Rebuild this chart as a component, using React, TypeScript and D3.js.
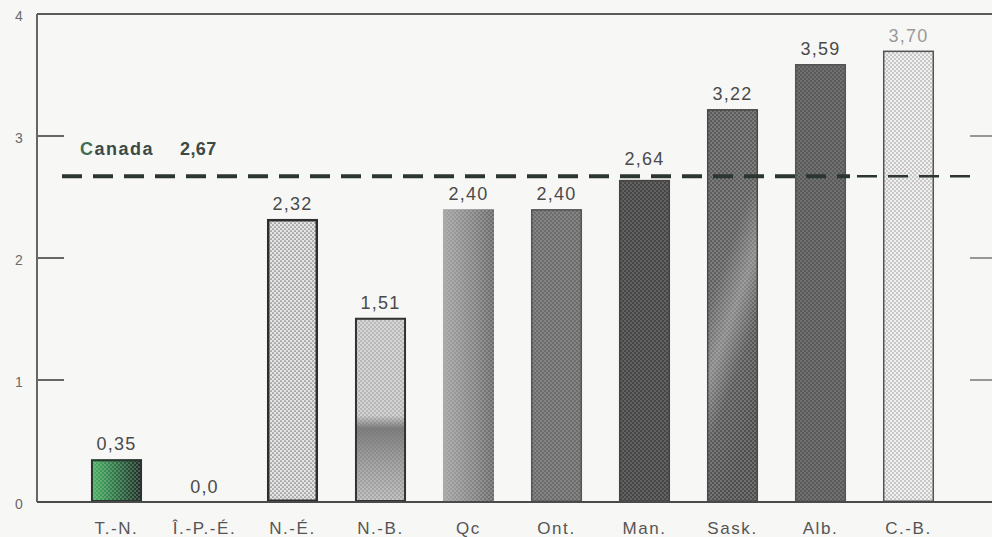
import React from "react";
import * as d3 from "d3";

const categories = ["T.-N.", "Î.-P.-É.", "N.-É.", "N.-B.", "Qc", "Ont.", "Man.", "Sask.", "Alb.", "C.-B."];
const values = [0.35, 0.0, 2.32, 1.51, 2.4, 2.4, 2.64, 3.22, 3.59, 3.7];
const valueLabels = ["0,35", "0,0", "2,32", "1,51", "2,40", "2,40", "2,64", "3,22", "3,59", "3,70"];
const yTicks = [0, 1, 2, 3, 4];
const rightTicks = [1, 2, 3];
const canadaValue = 2.67;
const canadaName = "Canada";
const canadaLabel = "2,67";

// styles (not data)
const barFill = ["green", "none", "lightA", "lightB", "qc", "ont", "man", "sask", "alb", "cb"];
const barStroke = ["#2a3530", "none", "#2e2e2e", "#333", "none", "#555", "#444", "#4a4a4a", "#555", "#555"];
const barStrokeW = [2, 0, 2.5, 2, 0, 1.5, 1.5, 1.5, 1.5, 1.5];

const W = 992;
const H = 537;
const FONT = "'Liberation Sans', Arial, Helvetica, sans-serif";

export default function App() {
  const x = d3
    .scaleBand<string>()
    .domain(categories)
    .range([72.5, 952.5])
    .paddingInner(0.42)
    .paddingOuter(0.21);
  const y = d3.scaleLinear().domain([0, 4]).range([502, 14]);
  const left = 37;
  const right = W;
  const lineY = y(canadaValue);

  const dotPattern = (id: string, bg: string | null, dot: string, r = 0.85, op = 1) => (
    <pattern id={id} width={4} height={4} patternUnits="userSpaceOnUse" key={id}>
      {bg && <rect width={4} height={4} fill={bg} />}
      <circle cx={1} cy={1} r={r} fill={dot} opacity={op} />
      <circle cx={3} cy={3} r={r} fill={dot} opacity={op} />
    </pattern>
  );

  const fillFor = (k: string) => {
    switch (k) {
      case "green":
        return ["url(#gGreen)", "url(#dotsLight)"];
      case "lightA":
        return ["url(#pLight)", null];
      case "lightB":
        return ["url(#gNB)", "url(#dotsDarkSoft)"];
      case "qc":
        return ["url(#gQc)", "url(#dotsLight)"];
      case "ont":
        return ["url(#pOnt)", null];
      case "man":
        return ["url(#pMan)", null];
      case "sask":
        return ["url(#gSask)", "url(#dotsLight)"];
      case "alb":
        return ["url(#pAlb)", null];
      case "cb":
        return ["url(#pCB)", null];
      default:
        return [null, null];
    }
  };

  const labelY = (v: number) => {
    let ly = y(v) - 9;
    if (ly > lineY - 6 && ly < lineY + 16) ly = lineY - 11;
    return ly;
  };

  return (
    <svg
      width={W}
      height={H}
      viewBox={`0 0 ${W} ${H}`}
      style={{ position: "absolute", left: 0, top: 0, display: "block", background: "#f7f7f6" }}
      fontFamily={FONT}
    >
      <defs>
        <linearGradient id="gGreen" x1="0" y1="0" x2="1" y2="0">
          <stop offset="0" stopColor="#49b865" />
          <stop offset="0.45" stopColor="#2f7a48" />
          <stop offset="1" stopColor="#1c2a24" />
        </linearGradient>
        <linearGradient id="gNB" x1="0" y1="0" x2="0" y2="1">
          <stop offset="0" stopColor="#d6d6d6" />
          <stop offset="0.53" stopColor="#d2d2d2" />
          <stop offset="0.6" stopColor="#7e7e7e" />
          <stop offset="0.8" stopColor="#a6a6a6" />
          <stop offset="1" stopColor="#c4c4c4" />
        </linearGradient>
        <linearGradient id="gQc" x1="0" y1="0" x2="1" y2="0">
          <stop offset="0" stopColor="#a4a4a4" />
          <stop offset="0.6" stopColor="#858585" />
          <stop offset="1" stopColor="#6a6a6a" />
        </linearGradient>
        <linearGradient id="gSask" x1="0" y1="0" x2="0.35" y2="1">
          <stop offset="0" stopColor="#5a5a5a" />
          <stop offset="0.45" stopColor="#606060" />
          <stop offset="0.62" stopColor="#8a8a8a" />
          <stop offset="0.78" stopColor="#5a5a5a" />
          <stop offset="1" stopColor="#4e4e4e" />
        </linearGradient>
        {dotPattern("dotsLight", null, "#d8d8d8", 0.8, 0.55)}
        {dotPattern("dotsDarkSoft", null, "#6a6a6a", 0.8, 0.6)}
        {dotPattern("pLight", "#e4e4e4", "#7c7c7c", 0.85)}
        {dotPattern("pOnt", "#6c6c6c", "#a8a8a8", 0.75)}
        {dotPattern("pMan", "#474747", "#8a8a8a", 0.75)}
        {dotPattern("pAlb", "#5a5a5a", "#939393", 0.75)}
        {dotPattern("pCB", "#f0f0f0", "#8a8a8a", 0.75)}
      </defs>

      {/* frame */}
      <line x1={left} x2={right} y1={y(4)} y2={y(4)} stroke="#5a5a5a" strokeWidth={2.2} />
      <line x1={left} x2={left} y1={y(4)} y2={y(0)} stroke="#666" strokeWidth={2} />

      {/* left ticks */}
      {yTicks.map((t) => (
        <g key={"yt" + t}>
          {t > 0 && t < 4 && (
            <line x1={left} x2={left + 27} y1={y(t)} y2={y(t)} stroke="#666" strokeWidth={2} />
          )}
          <text
            x={19}
            y={y(t) + 3}
            textAnchor="middle"
            dominantBaseline="middle"
            fontSize={14}
            fill="#6a6a6a"
          >
            {t}
          </text>
        </g>
      ))}
      {/* right ticks */}
      {rightTicks.map((t) => (
        <line key={"rt" + t} x1={970} x2={right} y1={y(t)} y2={y(t)} stroke="#777" strokeWidth={1.5} />
      ))}

      {/* bars */}
      {categories.map((c, i) => {
        const v = values[i];
        if (v <= 0) return null;
        const bx = x(c)!;
        const bw = x.bandwidth();
        const by = y(v);
        const bh = y(0) - y(v);
        const [f1, f2] = fillFor(barFill[i]);
        return (
          <g key={"bar" + c}>
            <rect x={bx} y={by} width={bw} height={bh} fill={f1 || "none"} />
            {f2 && <rect x={bx} y={by} width={bw} height={bh} fill={f2} />}
            {barStroke[i] !== "none" && (
              <rect
                x={bx + barStrokeW[i] / 2}
                y={by + barStrokeW[i] / 2}
                width={bw - barStrokeW[i]}
                height={bh - barStrokeW[i]}
                fill="none"
                stroke={barStroke[i]}
                strokeWidth={barStrokeW[i]}
              />
            )}
          </g>
        );
      })}

      {/* baseline */}
      <line x1={left} x2={right} y1={y(0)} y2={y(0)} stroke="#4a4a4a" strokeWidth={2.2} />

      {/* Canada average */}
      <line
        x1={62}
        x2={850}
        y1={lineY}
        y2={lineY}
        stroke="#2c3631"
        strokeWidth={4}
        strokeDasharray="20 11"
      />
      <line
        x1={857}
        x2={970}
        y1={lineY}
        y2={lineY}
        stroke="#2c3631"
        strokeWidth={2.6}
        strokeDasharray="20 11"
      />
      <text x={80} y={lineY - 21} fontSize={18} fontWeight="bold" fill="#3d4a44" letterSpacing={1.5}>
        <tspan fill="#3f6e52">{canadaName.slice(0, 1)}</tspan>
        {canadaName.slice(1)}
      </text>
      <text x={180} y={lineY - 21} fontSize={18} fontWeight="bold" fill="#3d4a44" letterSpacing={0.4}>
        {canadaLabel}
      </text>

      {/* value labels */}
      {categories.map((c, i) => (
        <text
          key={"vl" + c}
          x={x(c)! + x.bandwidth() / 2}
          y={labelY(values[i])}
          textAnchor="middle"
          fontSize={18}
          fill={i === 9 ? "#9a9a9a" : "#4a4a4a"}
          letterSpacing={1.2}
        >
          {valueLabels[i]}
        </text>
      ))}

      {/* category labels */}
      {categories.map((c) => (
        <text
          key={"cl" + c}
          x={x(c)! + x.bandwidth() / 2}
          y={534}
          textAnchor="middle"
          fontSize={17}
          fill="#555"
          letterSpacing={1.6}
        >
          {c}
        </text>
      ))}
    </svg>
  );
}
